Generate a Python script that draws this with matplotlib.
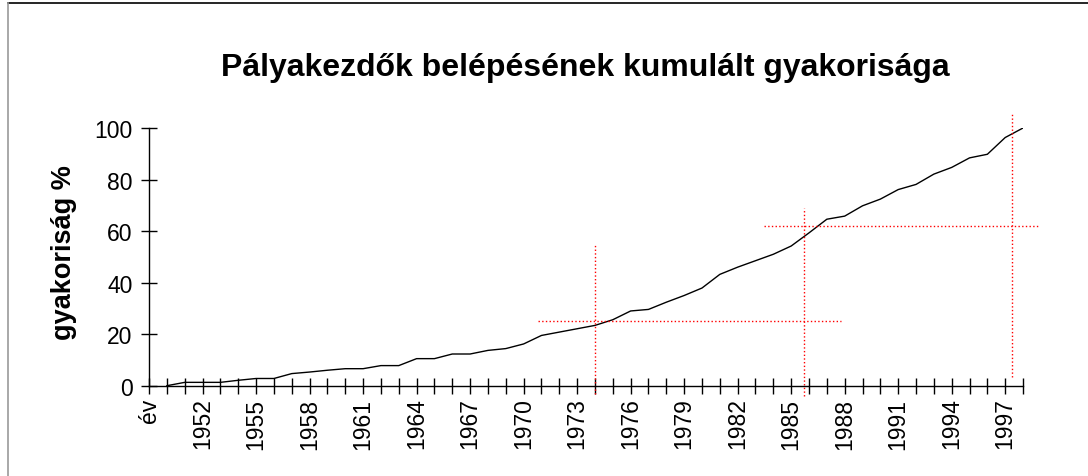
import matplotlib
matplotlib.use("Agg")
import matplotlib.pyplot as plt
import numpy as np

plt.rcParams["font.family"] = ["Liberation Sans", "DejaVu Sans"]

# category axis: a header cell "év" followed by the years
categories = ["év"] + [str(y) for y in range(1950, 1999)]
# cumulative frequency (%) per year, 1950..1998 (no value for "év")
values = [np.nan,
          0.0, 1.3, 1.3, 1.3, 2.1, 2.8, 2.8, 4.7, 5.3, 6.0,
          6.6, 6.6, 7.8, 7.8, 10.5, 10.5, 12.3, 12.3, 13.7, 14.4,
          16.2, 19.5, 20.8, 22.1, 23.4, 25.6, 29.0, 29.6, 32.4, 35.0,
          37.9, 43.2, 46.0, 48.5, 51.0, 54.2, 59.3, 64.6, 65.8, 69.8,
          72.4, 76.1, 78.1, 82.1, 84.7, 88.4, 89.8, 96.3, 100.0]

# hand-drawn red guide lines (category-index units, percent)
vline_x = [25.0, 36.7, 48.4]
vline_y = [(-3.2, 54.8), (-4.1, 68.8), (3.2, 106.0)]
hline_y = [25.1, 61.9]
hline_x = [(21.8, 38.8), (34.5, 49.9)]

fig = plt.figure(figsize=(10.88, 4.77), dpi=100)
ax = fig.add_axes([0.137, 0.1893, 0.8033, 0.5403])

x = np.arange(len(categories))
ax.plot(x, values, color="black", linewidth=1.0)

for xv, (y0, y1) in zip(vline_x, vline_y):
    ax.plot([xv, xv], [y0, y1], color="red", linestyle=":", linewidth=1.0, clip_on=False)
for yv, (x0, x1) in zip(hline_y, hline_x):
    ax.plot([x0, x1], [yv, yv], color="red", linestyle=":", linewidth=1.0, clip_on=False)

ax.set_xlim(0, len(categories) - 1)
ax.set_ylim(0, 100)
ax.set_xticks(x)
ax.set_xticklabels([c if i % 3 == 0 else "" for i, c in enumerate(categories)],
                   rotation=90, fontsize=16.5)
ax.set_yticks(np.arange(0, 101, 20))
ax.tick_params(axis="y", labelsize=16.5, direction="inout", length=12, width=1, pad=6)
ax.tick_params(axis="x", direction="inout", length=11, width=1, pad=3)

for side in ["top", "right"]:
    ax.spines[side].set_visible(False)
for side in ["left", "bottom"]:
    ax.spines[side].set_linewidth(1.0)

ax.set_ylabel("gyakoriság %", fontsize=19.5, fontweight="bold")
ax.yaxis.set_label_coords(-0.082, 0.519)
fig.text(0.538, 0.857, "Pályakezdők belépésének kumulált gyakorisága",
         ha="center", va="center", fontsize=23, fontweight="bold")

# chart frame (top and left edges visible)
fig.add_artist(plt.Line2D([0.0074, 1.0], [0.9916, 0.9916], color="black", linewidth=1.2))
fig.add_artist(plt.Line2D([0.0074, 0.0074], [0.0, 0.9916], color="#999999", linewidth=1.2))

fig.savefig("out.png", dpi=100)
